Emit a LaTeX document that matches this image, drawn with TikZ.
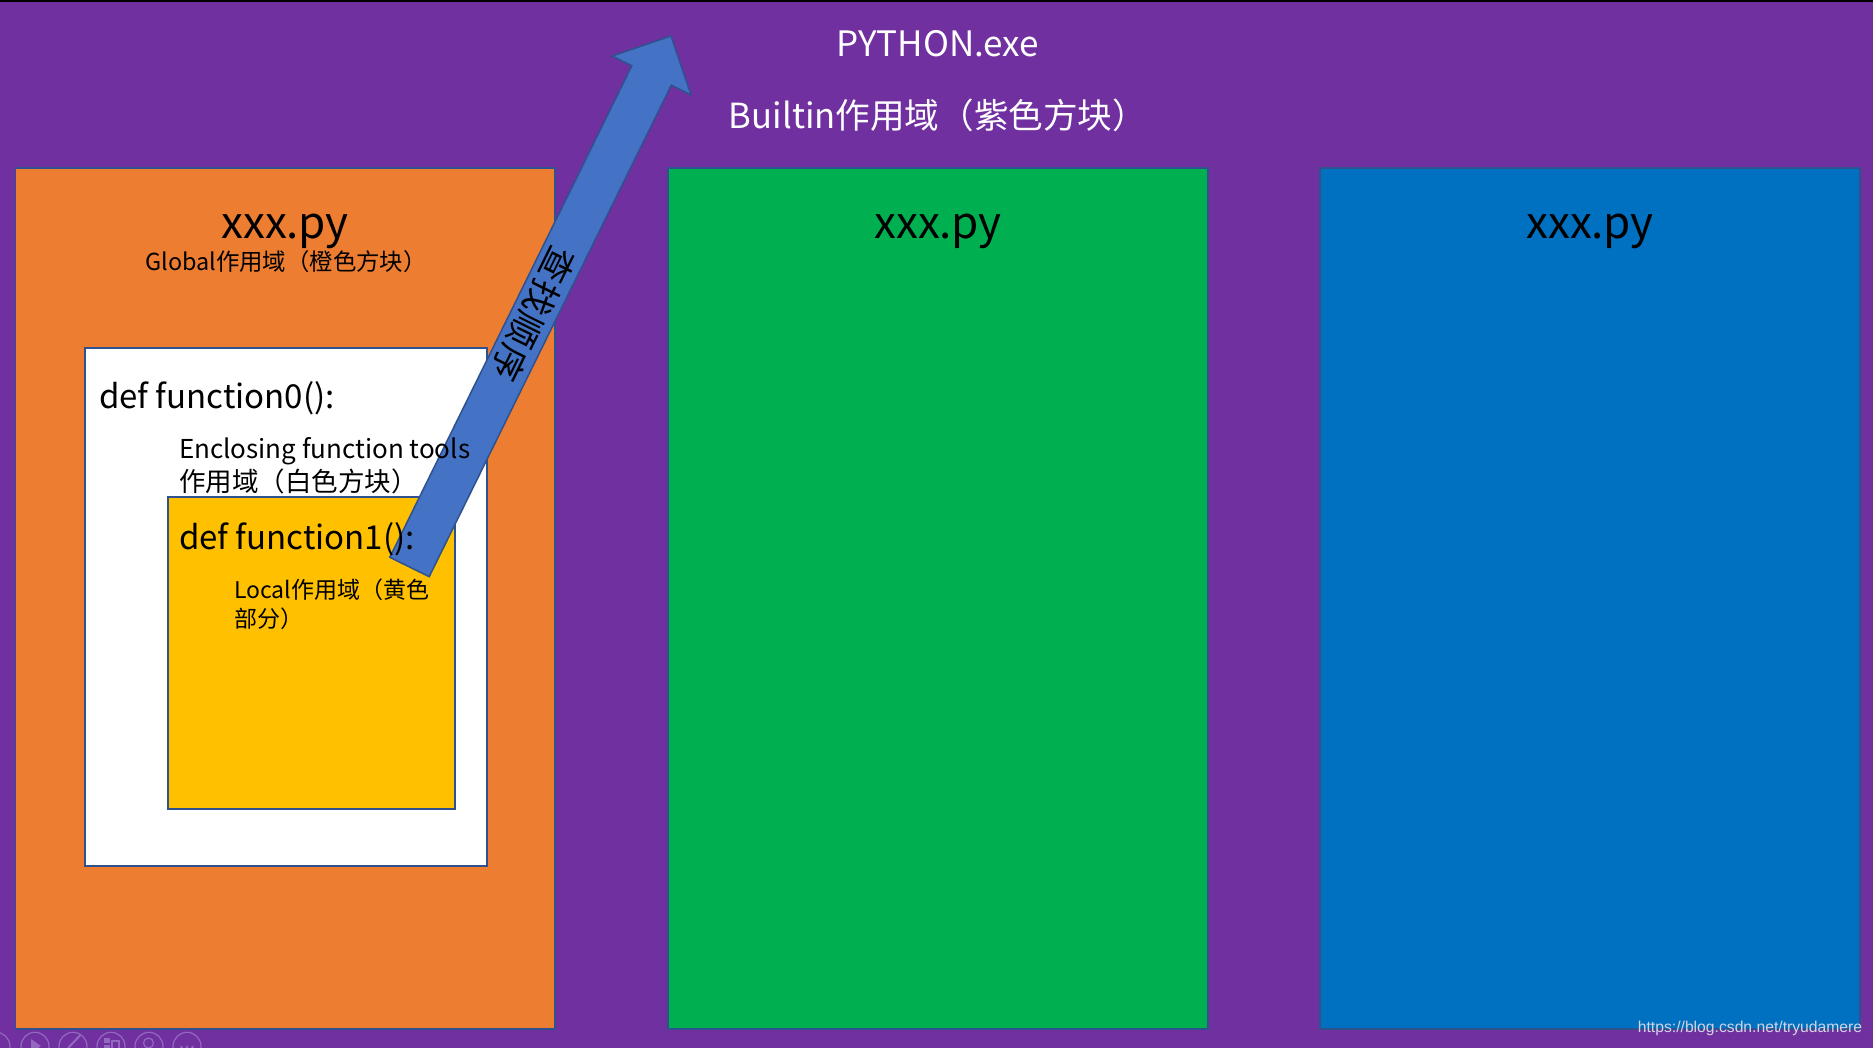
\documentclass[tikz,border=0pt]{standalone}
\usepackage{fontspec}
\setmainfont{Noto Sans CJK SC}
\newfontfamily\wmfont{Liberation Sans}
\newfontfamily\spacedcjk[LetterSpace=4]{Noto Sans CJK SC}
\definecolor{bgpurple}{HTML}{7030A0}
\definecolor{orangebox}{HTML}{ED7D31}
\definecolor{greenbox}{HTML}{00B050}
\definecolor{bluebox}{HTML}{0070C0}
\definecolor{yellowbox}{HTML}{FFC000}
\definecolor{arrowblue}{HTML}{4472C4}
\definecolor{edgeblue}{HTML}{2F528F}
\definecolor{wmgray}{HTML}{D4D4E4}
\definecolor{iconpurple}{HTML}{9468C0}
\newcommand{\fs}[1]{\fontsize{#1}{#1}\selectfont}
\begin{document}
\begin{tikzpicture}[x=1pt,y=-1pt,
  every node/.style={inner sep=0pt,outer sep=0pt},
  region/.style={draw=edgeblue,line width=1.5pt,anchor=north west},
  lbl/.style={text=black},
  toolicon/.style={draw=iconpurple,line width=1.2pt}]
\useasboundingbox (0,0) rectangle (1873,1048);
\fill[bgpurple] (0,0) rectangle (1873,1048);
\fill[black] (0,0) rectangle (1873,2.5);

% file boxes
\node[region,fill=orangebox,minimum width=539.5pt,minimum height=861pt] (orange) at (15.5,168) {};
\node[region,fill=greenbox,minimum width=540pt,minimum height=861pt] (green) at (668,168) {};
\node[region,fill=bluebox,minimum width=540pt,minimum height=861pt] (blue) at (1320,168) {};
\node[region,fill=white,minimum width=402pt,minimum height=518pt] (white) at (85,348) {};
\node[region,fill=yellowbox,minimum width=287pt,minimum height=312pt] (yellow) at (168,497) {};

% search-order block arrow
\coordinate (tl) at (389.8,557.3);
\coordinate (il) at (631.8,65.8);
\coordinate (hl) at (612.1,56.0);
\coordinate (tip) at (671,36);
\coordinate (hr) at (691.0,94.9);
\coordinate (ir) at (671.3,85.2);
\coordinate (tr) at (429.2,576.7);
\filldraw[fill=arrowblue,draw=edgeblue,line width=1.5pt,line join=miter]
  (tl) -- (il) -- (hl) -- (tip) -- (hr) -- (ir) -- (tr) -- cycle;
\node[lbl,font=\spacedcjk\fs{35},rotate=-116.2] (order) at (534,314) {查找顺序};

% texts
\node[text=white,font=\fs{35}] (python) at (938,44) {PYTHON.exe};
\node[text=white,font=\fs{34.6}] (builtin) at (938,115) {Builtin作用域（紫色方块）};
\node[lbl,font=\fs{44}] (f1) at (285,231) {xxx.py};
\node[lbl,font=\fs{44}] (f2) at (938,231) {xxx.py};
\node[lbl,font=\fs{44}] (f3) at (1590,231) {xxx.py};
\node[lbl,font=\fs{23.4}] (global) at (286,262) {Global作用域（橙色方块）};
\node[lbl,font=\fs{33},anchor=west] (def0) at (99,398) {def function0():};
\node[lbl,font=\fs{26},anchor=west] (encl) at (179,451) {Enclosing function tools};
\node[lbl,font=\fs{26.5},anchor=west] (encl2) at (179,481) {作用域（白色方块）};
\node[lbl,font=\fs{33},anchor=west] (def1) at (179,539) {def function1():};
\node[lbl,font=\fs{23},anchor=west] (local1) at (234,590) {Local作用域（黄色};
\node[lbl,font=\fs{23},anchor=west] (local2) at (234,619) {部分）};

% watermark
\node[text=wmgray,font=\wmfont\fs{15.7}] (wm) at (1750,1028.5) {https://blog.csdn.net/tryudamere};

% presentation toolbar (faint)
\draw[toolicon] (-4,1046.3) circle (14);
\draw[toolicon] (35,1046.3) circle (14);
\draw[toolicon] (73,1046.3) circle (14);
\draw[toolicon] (111,1046.3) circle (14);
\draw[toolicon] (149,1046.3) circle (14);
\draw[toolicon] (187,1046.3) circle (14);
\fill[iconpurple] (31,1039) -- (41,1046) -- (31,1053) -- cycle;
\draw[iconpurple,line width=2pt] (80,1035.5) -- (68,1048);
\fill[iconpurple] (104,1038) rectangle (110,1043);
\fill[iconpurple] (104,1045) rectangle (110,1049);
\draw[iconpurple,line width=1.2pt] (112,1041) rectangle (119,1049);
\draw[toolicon] (148.5,1043) circle (5);
\fill[iconpurple] (181.5,1047) circle (1.5);
\fill[iconpurple] (187,1047) circle (1.5);
\fill[iconpurple] (192.5,1047) circle (1.5);
\end{tikzpicture}
\end{document}
